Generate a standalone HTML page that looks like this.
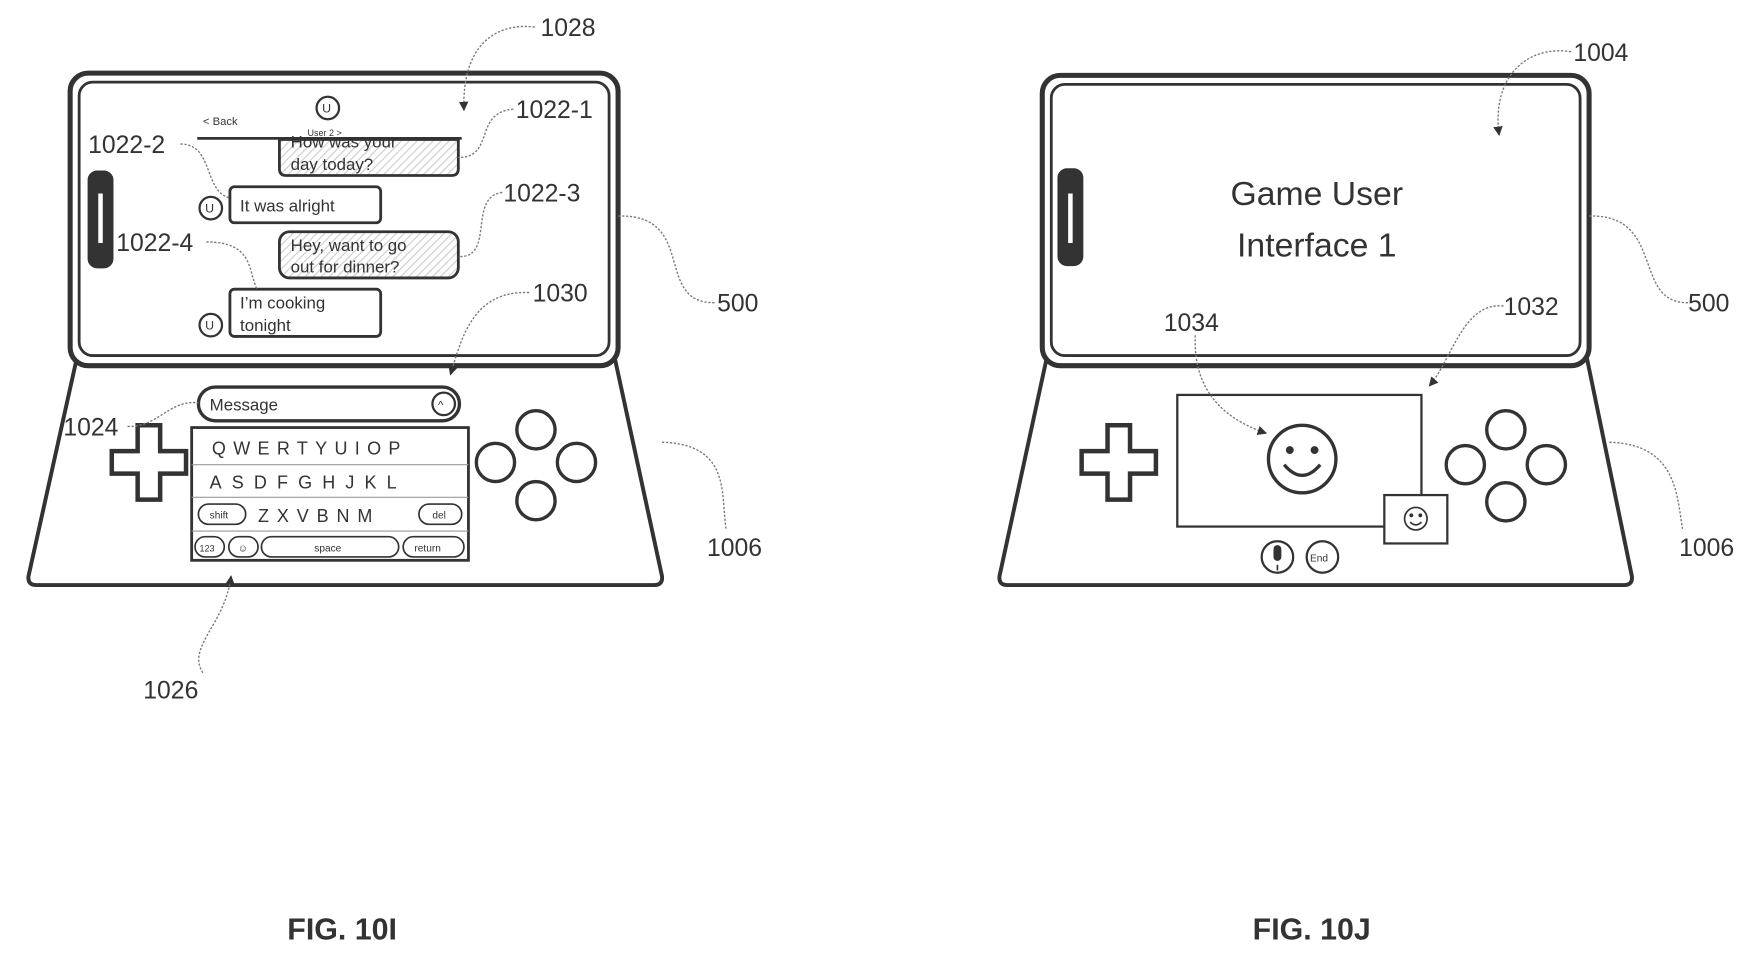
<!DOCTYPE html>
<html><head><meta charset="utf-8"><style>
html,body{margin:0;padding:0;background:#fff;}
svg{display:block;}
text{font-family:"Liberation Sans",sans-serif;fill:#333;}
.c{font-family:"DejaVu Sans","Liberation Sans",sans-serif;}
</style></head><body>
<svg width="1756" height="962" viewBox="0 0 1560 855" xmlns="http://www.w3.org/2000/svg">
<defs>
<marker id="ar" viewBox="0 0 10 10" refX="9" refY="5" markerWidth="7" markerHeight="7" orient="auto"><path d="M0,0 L10,5 L0,10 z" fill="#333"/></marker>
<pattern id="hatch" width="5" height="5" patternUnits="userSpaceOnUse" patternTransform="rotate(45)"><line x1="0" y1="0" x2="0" y2="5" stroke="#ccc" stroke-width="2"/></pattern>
</defs>
<g fill="none" stroke="#333">
<!-- LEFT DEVICE -->
<path d="M68,318 L546,318 L588,512 Q589,520 581,520 L32,520 Q24,520 25,512 Z" stroke-width="3.5" fill="#fff"/>
<rect x="62" y="65" width="487" height="260" rx="16" stroke-width="4.5" fill="#fff"/>
<rect x="70" y="73" width="471" height="243" rx="12" stroke-width="2.5"/>
<rect x="78" y="152" width="22" height="86" rx="8" fill="#333"/>
<rect x="87" y="172" width="4" height="44" fill="#fff" stroke="none"/>
<path d="M122,378 h20 v23 h23 v20 h-23 v23 h-20 v-23 h-23 v-20 h23 z" stroke-width="4"/>
<circle cx="476" cy="382" r="17" stroke-width="3"/><circle cx="440" cy="411" r="17" stroke-width="3"/>
<circle cx="512" cy="411" r="17" stroke-width="3"/><circle cx="476" cy="445" r="17" stroke-width="3"/>
<rect x="176" y="344" width="232" height="30" rx="15" stroke-width="3"/>
<circle cx="394" cy="359" r="10" stroke-width="2"/>
<rect x="170" y="380" width="246" height="118" stroke-width="2.5"/>
<line x1="170" y1="413" x2="416" y2="413" stroke-width="1" stroke="#999"/>
<line x1="170" y1="442" x2="416" y2="442" stroke-width="1" stroke="#999"/>
<line x1="170" y1="472" x2="416" y2="472" stroke-width="1" stroke="#999"/>
<rect x="176" y="448" width="42" height="18" rx="9" stroke-width="1.5"/>
<rect x="372" y="448" width="38" height="18" rx="9" stroke-width="1.5"/>
<rect x="173" y="477" width="26" height="18" rx="9" stroke-width="1.5"/>
<rect x="203" y="477" width="26" height="18" rx="9" stroke-width="1.5"/>
<rect x="232" y="477" width="122" height="18" rx="9" stroke-width="1.5"/>
<rect x="358" y="477" width="54" height="18" rx="9" stroke-width="1.5"/>
<!-- chat -->
<circle cx="291" cy="96" r="10" stroke-width="2"/>
<line x1="175" y1="123" x2="410" y2="123" stroke-width="2.5"/>
<path d="M248,124 L407,124 L407,150 Q407,156 401,156 L254,156 Q248,156 248,150 Z" stroke-width="2.5" fill="url(#hatch)"/>
<rect x="204" y="166" width="134" height="32" rx="4" stroke-width="2.5"/>
<circle cx="187" cy="185" r="10" stroke-width="2"/>
<rect x="248" y="206" width="159" height="41" rx="9" stroke-width="2.5" fill="url(#hatch)"/>
<rect x="204" y="257" width="134" height="42" rx="4" stroke-width="2.5"/>
<circle cx="187" cy="289" r="10" stroke-width="2"/>
<!-- leaders left -->
<g stroke="#777" stroke-width="1.2" stroke-dasharray="2,1.5">
<path d="M475,24 C440,20 410,40 412,98" marker-end="url(#ar)"/>
<path d="M456,97 C420,100 440,140 407,140"/>
<path d="M160,128 C190,128 180,170 204,176"/>
<path d="M446,171 C415,175 440,230 407,228"/>
<path d="M183,215 C225,215 220,240 228,257"/>
<path d="M470,260 C420,258 410,300 400,333" marker-end="url(#ar)"/>
<path d="M549,192 C620,190 580,270 635,269"/>
<path d="M588,393 C650,395 640,440 645,470"/>
<path d="M113,379 C140,380 150,355 176,358"/>
<path d="M180,598 C165,575 200,555 205,512" marker-end="url(#ar)"/>
</g>
<!-- RIGHT DEVICE -->
<path d="M930,318 L1410,318 L1450,512 Q1451,520 1443,520 L895,520 Q887,520 888,512 Z" stroke-width="3.5" fill="#fff"/>
<rect x="926" y="67" width="486" height="258" rx="16" stroke-width="4.5" fill="#fff"/>
<rect x="934" y="75" width="470" height="241" rx="12" stroke-width="2.5"/>
<rect x="940" y="150" width="22" height="86" rx="8" fill="#333"/>
<rect x="949" y="172" width="4" height="44" fill="#fff" stroke="none"/>
<path d="M984,378 h20 v23 h23 v20 h-23 v23 h-20 v-23 h-23 v-20 h23 z" stroke-width="4"/>
<circle cx="1338" cy="382" r="17" stroke-width="3"/><circle cx="1302" cy="413" r="17" stroke-width="3"/>
<circle cx="1374" cy="413" r="17" stroke-width="3"/><circle cx="1338" cy="446" r="17" stroke-width="3"/>
<rect x="1046" y="351" width="217" height="117" stroke-width="2"/>
<circle cx="1157" cy="408" r="30" stroke-width="3"/>
<circle cx="1146" cy="400" r="3" fill="#333"/><circle cx="1168" cy="400" r="3" fill="#333"/>
<path d="M1141,413 Q1157,432 1173,413" stroke-width="3"/>
<rect x="1230" y="440" width="56" height="43" stroke-width="2" fill="#fff"/>
<circle cx="1258" cy="461" r="10" stroke-width="1.5"/>
<circle cx="1254" cy="458" r="1.2" fill="#333"/><circle cx="1262" cy="458" r="1.2" fill="#333"/>
<path d="M1253,464 Q1258,469 1263,464" stroke-width="1.5"/>
<circle cx="1135" cy="495" r="14" stroke-width="2"/>
<rect x="1132" y="485" width="6" height="13" rx="3" fill="#333"/>
<path d="M1135,502 v5" stroke-width="1.5"/>
<circle cx="1175" cy="495" r="14" stroke-width="2"/>
<g stroke="#777" stroke-width="1.2" stroke-dasharray="2,1.5">
<path d="M1396,46 C1360,40 1325,65 1332,120" marker-end="url(#ar)"/>
<path d="M1062,298 C1060,340 1080,370 1125,385" marker-end="url(#ar)"/>
<path d="M1336,272 C1300,268 1290,320 1270,343" marker-end="url(#ar)"/>
<path d="M1412,192 C1480,190 1450,270 1500,269"/>
<path d="M1430,393 C1490,395 1490,440 1495,470"/>
</g>
</g>
<!-- text left -->
<g font-size="22">
<text x="480" y="32">1028</text>
<text x="458" y="105">1022-1</text>
<text x="78" y="136">1022-2</text>
<text x="447" y="179">1022-3</text>
<text x="103" y="223">1022-4</text>
<text x="473" y="268">1030</text>
<text x="637" y="277">500</text>
<text x="628" y="494">1006</text>
<text x="56" y="387">1024</text>
<text x="127" y="621">1026</text>
</g>
<g class="c">
<text x="180" y="111" font-size="10">&lt; Back</text>
<text x="286" y="100" font-size="11">U</text>
<text x="273" y="121" font-size="8">User 2 &gt;</text>
<text x="258" y="131" font-size="15">How was your</text>
<text x="258" y="151" font-size="15">day today?</text>
<text x="213" y="188" font-size="15">It was alright</text>
<text x="182" y="189" font-size="11">U</text>
<text x="258" y="223" font-size="15">Hey, want to go</text>
<text x="258" y="242" font-size="15">out for dinner?</text>
<text x="213" y="274" font-size="15">I’m cooking</text>
<text x="213" y="294" font-size="15">tonight</text>
<text x="182" y="293" font-size="11">U</text>
<text x="186" y="365" font-size="15">Message</text>
<text x="389" y="363" font-size="10">^</text>
<text x="188" y="404" font-size="16" letter-spacing="6.5">QWERTYUIOP</text>
<text x="186" y="434" font-size="16" letter-spacing="9">ASDFGHJKL</text>
<text x="229" y="464" font-size="16" letter-spacing="7">ZXVBNM</text>
<text x="186" y="461" font-size="9">shift</text>
<text x="384" y="461" font-size="9">del</text>
<text x="177" y="490" font-size="8">123</text>
<text x="211" y="490" font-size="9">☺</text>
<text x="279" y="490" font-size="9">space</text>
<text x="368" y="490" font-size="9">return</text>
<text x="1170" y="182" font-size="30" text-anchor="middle">Game User</text>
<text x="1170" y="228" font-size="30" text-anchor="middle">Interface 1</text>
<text x="1164" y="499" font-size="9">End</text>
</g>
<g font-size="22">
<text x="1398" y="54">1004</text>
<text x="1034" y="294">1034</text>
<text x="1336" y="280">1032</text>
<text x="1500" y="277">500</text>
<text x="1492" y="494">1006</text>
</g>
<text x="255" y="835" font-size="27" font-weight="bold">FIG. 10I</text>
<text x="1113" y="835" font-size="27" font-weight="bold">FIG. 10J</text>
</svg>
</body></html>
